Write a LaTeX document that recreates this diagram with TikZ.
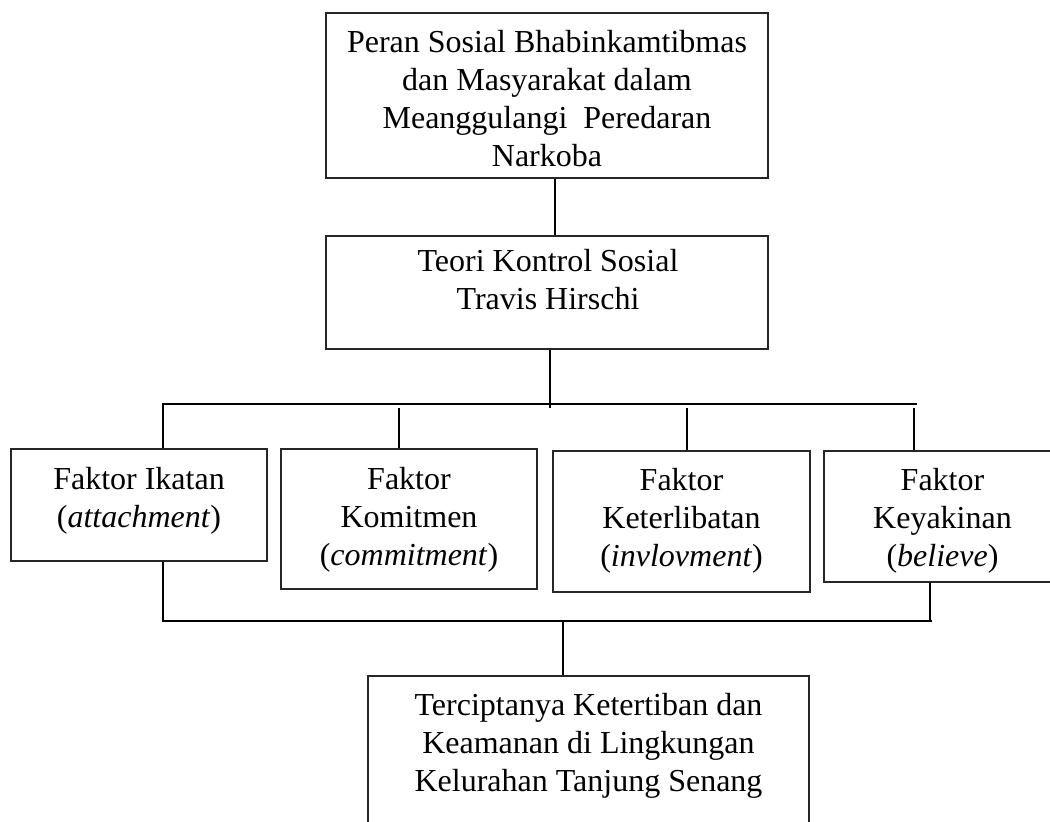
\documentclass[tikz,border=0pt]{standalone}
\usepackage{fontspec}
\setmainfont{Liberation Serif}
\newcommand\mylines[1]{\vtop{\halign{\hfil##\hfil\cr#1\crcr}}}
\tikzset{
  box/.style={draw=black!85,line width=1.4pt,inner sep=0pt},
  conn/.style={draw=black,line width=1.4pt},
  lbl/.style={anchor=base,inner sep=0pt,font=\fontsize{32}{38}\selectfont}
}
\begin{document}
\begin{tikzpicture}[x=1pt,y=-1pt]
\useasboundingbox (0,0) rectangle (1050,822);
\clip (0,0) rectangle (1050,822);
\fill[white] (0,0) rectangle (1050,822);

% boxes
\node[box,minimum width=442,minimum height=165] (top) at (547,95.5) {};
\node[box,minimum width=442,minimum height=113] (teori) at (547,292.5) {};
\node[box,minimum width=256,minimum height=112] (f1) at (139,505) {};
\node[box,minimum width=256,minimum height=140] (f2) at (409,519) {};
\node[box,minimum width=257,minimum height=141] (f3) at (681.5,521.5) {};
\node[box,minimum width=237,minimum height=131] (f4) at (942.5,516.5) {};
\node[box,minimum width=441,minimum height=184] (final) at (588.5,768) {};

% texts
\node[lbl] (ttop) at (547,52) {\mylines{Peran Sosial Bhabinkamtibmas\cr dan Masyarakat dalam\cr Meanggulangi~ Peredaran\cr Narkoba}};
\node[lbl] (tteori) at (548,271) {\mylines{Teori Kontrol Sosial\cr Travis Hirschi}};
\node[lbl] (tf1) at (139,489) {\mylines{Faktor Ikatan\cr (\textit{attachment})}};
\node[lbl] (tf2) at (409,489) {\mylines{Faktor\cr Komitmen\cr (\textit{commitment})}};
\node[lbl] (tf3) at (681.5,490) {\mylines{Faktor\cr Keterlibatan\cr (\textit{invlovment})}};
\node[lbl] (tf4) at (942.5,490) {\mylines{Faktor\cr Keyakinan\cr (\textit{believe})}};
\node[lbl] (tfinal) at (588.5,715) {\mylines{Terciptanya Ketertiban dan\cr Keamanan di Lingkungan\cr Kelurahan Tanjung Senang}};

% connector coordinates
\coordinate (c1) at (555,0);
\coordinate (tj) at (550,408);
\coordinate (busL) at (163,404);
\coordinate (busR) at (917,404);
\coordinate (t2) at (399,408);
\coordinate (t3) at (687,408);
\coordinate (t4) at (914,408);
\coordinate (bL) at (163,621);
\coordinate (bR) at (932,621);
\coordinate (b4) at (930,621);
\coordinate (bm) at (563,621);

% connectors
\draw[conn] (top.south -| c1) -- (teori.north -| c1);
\draw[conn] (teori.south -| tj) -- (tj);
\draw[conn] (f1.north -| busL) -- (busL) -- (busR);
\draw[conn] (t2) -- (f2.north -| t2);
\draw[conn] (t3) -- (f3.north -| t3);
\draw[conn] (t4) -- (f4.north -| t4);
\draw[conn] (f1.south -| bL) -- (bL) -- (bR);
\draw[conn] (f4.south -| b4) -- (b4);
\draw[conn] (bm) -- (final.north -| bm);
\end{tikzpicture}
\end{document}
